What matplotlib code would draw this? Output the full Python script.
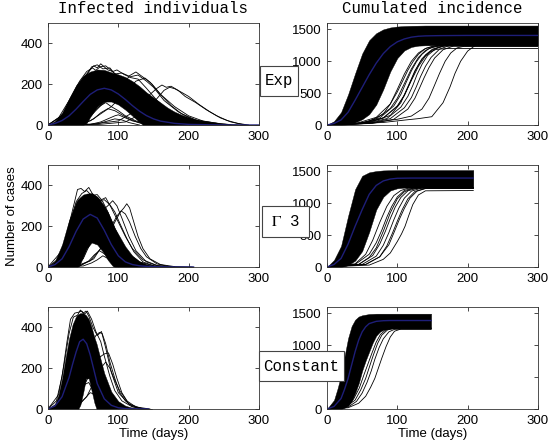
import matplotlib
matplotlib.use('Agg')
import matplotlib.pyplot as plt
from matplotlib.patches import Rectangle

plt.rcParams['font.family'] = 'Liberation Sans'
plt.rcParams['mathtext.fontset'] = 'stix'

# ---------------- Infected individuals, Exp ----------------
inf_exp_mean_t = [0, 10, 20, 30, 40, 50, 60, 70, 80, 90, 100, 110, 120, 130, 140, 150, 160, 180, 200, 230, 260, 300]
inf_exp_mean = [0, 8, 22, 45, 78, 115, 150, 172, 180, 172, 152, 125, 95, 68, 46, 30, 19, 8, 3, 1, 0, 0]
inf_exp_env_t = [0, 10, 20, 30, 40, 50, 55, 60, 70, 80, 90, 100, 110, 120, 130, 135, 140, 150, 160, 170,
                 180, 190, 200, 210, 220, 240, 260, 280, 300]
inf_exp_hi = [0, 20, 60, 130, 195, 240, 252, 262, 272, 270, 258, 248, 235, 215, 190, 175, 160, 135, 110, 85,
              65, 50, 38, 28, 22, 12, 5, 1, 0]
inf_exp_lo = [0, 0, 0, 0, 0, 0, 10, 40, 90, 115, 115, 100, 75, 45, 15, 0, 0, 0, 0, 0,
              0, 0, 0, 0, 0, 0, 0, 0, 0]
inf_exp_runs = [
    ([0, 20, 35, 50, 60, 65, 70, 75, 80, 85, 90, 100, 110, 120, 140, 160, 180, 200, 230, 260],
     [0, 45, 140, 230, 270, 290, 280, 300, 285, 270, 265, 240, 225, 200, 140, 80, 40, 18, 5, 0]),
    ([0, 25, 40, 55, 62, 70, 78, 88, 95, 105, 115, 125, 135, 145, 160, 180, 200, 220, 250],
     [0, 60, 160, 245, 285, 295, 275, 280, 250, 255, 240, 260, 235, 210, 150, 90, 45, 20, 3]),
    ([0, 15, 30, 45, 55, 63, 68, 74, 82, 92, 98, 108, 118, 128, 140, 155, 175, 200, 240],
     [0, 35, 120, 215, 262, 280, 268, 285, 290, 262, 270, 248, 232, 225, 180, 120, 60, 22, 0]),
    ([0, 60, 100, 120, 135, 145, 155, 162, 168, 175, 185, 195, 210, 225, 240, 255, 270, 285],
     [0, 3, 20, 60, 110, 150, 180, 196, 185, 190, 170, 140, 110, 75, 45, 22, 8, 0]),
    ([0, 70, 110, 130, 145, 155, 165, 173, 180, 190, 200, 215, 230, 245, 260, 280],
     [0, 2, 15, 50, 90, 130, 170, 185, 178, 160, 140, 100, 65, 35, 15, 0]),
    ([0, 60, 90, 110, 125, 138, 148, 160, 175, 190, 210, 240],
     [0, 20, 90, 160, 215, 230, 200, 150, 95, 55, 25, 0]),
    ([0, 50, 80, 100, 115, 128, 140, 150, 165, 185, 205, 230],
     [0, 25, 110, 190, 235, 245, 215, 185, 120, 65, 28, 0]),
    ([0, 40, 55, 65, 75, 82, 90, 100, 110, 125, 140, 160],
     [0, 5, 25, 60, 95, 110, 90, 70, 45, 20, 8, 0]),
    ([0, 50, 65, 75, 85, 95, 105, 115, 130, 150],
     [0, 5, 30, 60, 80, 70, 50, 30, 10, 0]),
    ([0, 60, 75, 85, 95, 100, 110, 120, 135, 150],
     [0, 3, 15, 30, 45, 50, 35, 20, 8, 0]),
    ([0, 70, 85, 95, 105, 115, 130],
     [0, 5, 20, 30, 25, 12, 0]),
]

# ---------------- Infected individuals, Gamma 3 ----------------
inf_gam_mean_t = [0, 10, 20, 30, 40, 50, 60, 70, 80, 90, 100, 110, 120, 130, 140, 160, 180, 207]
inf_gam_mean = [0, 12, 40, 100, 175, 235, 258, 240, 180, 110, 55, 25, 12, 6, 3, 1, 0, 0]
inf_gam_env_t = [0, 10, 20, 30, 40, 42, 45, 50, 55, 62, 70, 78, 85, 92, 95, 100, 110, 120, 130, 140,
                 150, 160, 180, 207]
inf_gam_hi = [0, 30, 110, 230, 320, 330, 340, 355, 360, 362, 345, 310, 270, 215, 190, 160, 100, 55, 28, 14,
              7, 3, 1, 0]
inf_gam_lo = [0, 0, 0, 0, 0, 0, 10, 50, 90, 120, 110, 75, 35, 5, 0, 0, 0, 0, 0, 0,
              0, 0, 0, 0]
inf_gam_runs = [
    ([0, 15, 25, 35, 42, 47, 52, 58, 63, 70, 78, 85, 95, 105, 115, 130, 150, 175],
     [0, 40, 140, 280, 380, 385, 370, 390, 360, 340, 320, 270, 190, 120, 65, 25, 6, 0]),
    ([0, 20, 30, 40, 48, 55, 62, 70, 76, 82, 90, 100, 110, 120, 135, 155, 180],
     [0, 80, 200, 320, 360, 375, 350, 355, 330, 340, 290, 220, 150, 90, 35, 8, 0]),
    ([0, 40, 60, 75, 85, 95, 103, 108, 112, 116, 122, 128, 135, 145, 160, 180, 205],
     [0, 5, 30, 90, 150, 220, 270, 290, 310, 290, 220, 150, 90, 40, 12, 2, 0]),
    ([0, 45, 65, 80, 90, 98, 104, 110, 116, 124, 132, 140, 155, 175],
     [0, 5, 40, 120, 200, 250, 275, 260, 220, 150, 90, 50, 15, 0]),
    ([0, 30, 50, 65, 75, 85, 92, 98, 105, 115, 125, 140, 160],
     [0, 15, 90, 200, 270, 300, 325, 300, 240, 150, 80, 25, 0]),
    ([0, 25, 45, 60, 70, 80, 88, 95, 102, 112, 122, 135, 155],
     [0, 30, 150, 270, 320, 330, 305, 270, 215, 140, 75, 25, 0]),
    ([0, 35, 50, 58, 65, 70, 78, 88, 100, 115, 135],
     [0, 5, 40, 100, 150, 130, 90, 50, 20, 5, 0]),
    ([0, 45, 58, 66, 73, 80, 90, 100, 115, 130],
     [0, 5, 30, 60, 80, 65, 40, 20, 5, 0]),
    ([0, 50, 62, 70, 78, 86, 95, 110, 125],
     [0, 5, 20, 35, 55, 40, 20, 5, 0]),
]

# ---------------- Infected individuals, Constant ----------------
inf_con_mean_t = [0, 10, 20, 30, 35, 40, 45, 50, 55, 60, 65, 70, 80, 90, 100, 110, 120, 143]
inf_con_mean = [0, 15, 60, 155, 220, 280, 330, 342, 320, 265, 195, 125, 50, 18, 6, 2, 1, 0]
inf_con_env_t = [0, 10, 15, 20, 25, 30, 35, 40, 43, 46, 50, 54, 58, 62, 66, 69, 75, 80, 90, 100,
                 110, 120, 130, 148]
inf_con_hi = [0, 25, 70, 150, 250, 345, 415, 455, 465, 470, 470, 460, 440, 400, 350, 320, 240, 175, 85, 38,
              16, 6, 2, 0]
inf_con_lo = [0, 0, 0, 0, 0, 0, 0, 0, 0, 20, 80, 150, 150, 90, 30, 0, 0, 0, 0, 0,
              0, 0, 0, 0]
inf_con_runs = [
    ([0, 12, 20, 27, 32, 38, 44, 48, 52, 56, 62, 68, 75, 80, 88, 95, 105, 120, 140],
     [0, 40, 160, 330, 440, 470, 475, 480, 465, 480, 440, 380, 330, 260, 160, 90, 40, 10, 0]),
    ([0, 15, 23, 30, 36, 42, 46, 50, 54, 58, 64, 70, 76, 82, 90, 100, 115, 135],
     [0, 70, 220, 370, 450, 460, 485, 470, 480, 455, 400, 360, 380, 300, 180, 80, 25, 0]),
    ([0, 20, 35, 45, 55, 62, 68, 73, 77, 82, 88, 95, 102, 110, 120, 135],
     [0, 20, 80, 170, 260, 320, 360, 375, 370, 320, 230, 150, 80, 40, 12, 0]),
    ([0, 30, 45, 55, 65, 72, 80, 86, 92, 98, 105, 115, 130],
     [0, 15, 70, 140, 210, 250, 270, 275, 220, 150, 80, 25, 0]),
    ([0, 40, 55, 65, 75, 82, 88, 95, 102, 112, 125, 145],
     [0, 10, 60, 130, 200, 230, 200, 140, 90, 40, 10, 0]),
    ([0, 35, 45, 52, 58, 64, 70, 80, 95],
     [0, 10, 60, 120, 130, 90, 50, 15, 0]),
    ([0, 42, 52, 60, 68, 75, 85, 100],
     [0, 10, 50, 80, 70, 40, 12, 0]),
]

# ---------------- Cumulated incidence, Exp ----------------
cum_exp_mean_t = [0, 10, 20, 30, 40, 50, 60, 70, 80, 90, 100, 110, 120, 130, 140, 160, 200, 300]
cum_exp_mean = [0, 25, 80, 200, 390, 590, 790, 970, 1120, 1230, 1305, 1350, 1378, 1392, 1398, 1402, 1405, 1405]
cum_exp_env_t = [0, 10, 20, 30, 40, 50, 60, 70, 80, 90, 100, 110, 120, 130, 140, 160, 200, 300]
cum_exp_hi = [0, 60, 200, 480, 810, 1120, 1330, 1440, 1500, 1530, 1545, 1552, 1556, 1558, 1560, 1560, 1560, 1560]
cum_exp_lo = [0, 0, 0, 10, 40, 90, 170, 320, 560, 840, 1050, 1170, 1225, 1245, 1250, 1250, 1250, 1250]
cum_exp_runs = [
    ([0, 40, 60, 80, 90, 100, 110, 120, 130, 140, 150, 170, 300],
     [0, 20, 60, 170, 330, 560, 800, 1000, 1130, 1200, 1235, 1250, 1250]),
    ([0, 40, 70, 90, 100, 108, 115, 122, 130, 140, 155, 300],
     [0, 20, 120, 330, 520, 700, 860, 990, 1110, 1200, 1245, 1245]),
    ([0, 45, 75, 95, 105, 113, 120, 127, 135, 145, 160, 300],
     [0, 20, 110, 300, 480, 680, 850, 990, 1110, 1200, 1250, 1250]),
    ([0, 50, 70, 90, 100, 110, 120, 130, 140, 150, 165, 300],
     [0, 30, 100, 260, 420, 650, 880, 1060, 1170, 1220, 1245, 1245]),
    ([0, 50, 80, 100, 110, 118, 125, 132, 140, 150, 165, 300],
     [0, 25, 110, 290, 460, 660, 840, 980, 1100, 1190, 1240, 1240]),
    ([0, 50, 80, 100, 110, 120, 130, 140, 150, 165, 300],
     [0, 20, 110, 300, 470, 700, 920, 1080, 1180, 1240, 1240]),
    ([0, 55, 85, 105, 115, 122, 128, 135, 143, 155, 170, 300],
     [0, 25, 100, 280, 450, 620, 790, 950, 1090, 1200, 1250, 1250]),
    ([0, 60, 90, 110, 120, 127, 133, 140, 148, 160, 175, 300],
     [0, 25, 100, 270, 430, 600, 760, 920, 1060, 1190, 1250, 1250]),
    ([0, 65, 95, 115, 125, 132, 138, 145, 153, 165, 180, 300],
     [0, 25, 90, 250, 420, 590, 740, 900, 1050, 1180, 1240, 1240]),
    ([0, 60, 90, 105, 115, 125, 135, 145, 155, 170, 300],
     [0, 40, 150, 350, 600, 850, 1040, 1140, 1185, 1200, 1200]),
    ([0, 60, 100, 120, 135, 145, 152, 160, 168, 176, 185, 195, 300],
     [0, 30, 90, 140, 250, 420, 600, 810, 1000, 1130, 1210, 1235, 1235]),
    ([0, 80, 111, 130, 149, 165, 175, 182, 190, 200, 211, 225, 300],
     [0, 40, 78, 100, 130, 350, 600, 810, 1000, 1160, 1250, 1260, 1260]),
]

# ---------------- Cumulated incidence, Gamma 3 ----------------
cum_gam_mean_t = [0, 10, 20, 30, 40, 50, 60, 70, 80, 90, 100, 120, 140, 208]
cum_gam_mean = [0, 40, 135, 360, 640, 900, 1140, 1280, 1350, 1380, 1392, 1395, 1395, 1395]
cum_gam_env_t = [0, 10, 20, 30, 40, 50, 60, 70, 80, 90, 100, 110, 120, 208]
cum_gam_hi = [0, 110, 330, 800, 1220, 1430, 1485, 1505, 1515, 1518, 1520, 1520, 1520, 1520]
cum_gam_lo = [0, 0, 0, 30, 100, 250, 550, 900, 1100, 1200, 1235, 1245, 1245, 1245]
cum_gam_runs = [
    ([0, 40, 55, 65, 75, 85, 95, 105, 115, 130, 208],
     [0, 50, 200, 420, 700, 950, 1120, 1200, 1235, 1245, 1245]),
    ([0, 40, 60, 70, 78, 85, 92, 100, 110, 125, 208],
     [0, 40, 200, 380, 580, 780, 950, 1100, 1200, 1245, 1245]),
    ([0, 45, 60, 70, 80, 90, 100, 110, 120, 135, 208],
     [0, 40, 150, 300, 560, 850, 1070, 1180, 1225, 1240, 1240]),
    ([0, 45, 65, 75, 83, 90, 97, 105, 115, 130, 208],
     [0, 40, 180, 360, 560, 760, 940, 1090, 1195, 1240, 1240]),
    ([0, 50, 70, 80, 88, 95, 102, 110, 120, 135, 208],
     [0, 40, 170, 340, 540, 740, 920, 1080, 1190, 1240, 1240]),
    ([0, 55, 75, 85, 93, 100, 107, 115, 125, 140, 208],
     [0, 40, 160, 330, 530, 720, 900, 1070, 1185, 1235, 1235]),
    ([0, 55, 75, 88, 96, 103, 110, 118, 128, 140, 208],
     [0, 40, 160, 350, 560, 750, 920, 1080, 1190, 1230, 1230]),
    ([0, 60, 80, 90, 100, 106, 111, 116, 122, 130, 140, 208],
     [0, 30, 120, 220, 400, 520, 640, 800, 980, 1130, 1195, 1200]),
]

# ---------------- Cumulated incidence, Constant ----------------
cum_con_mean_t = [0, 10, 20, 25, 30, 35, 40, 45, 50, 55, 60, 70, 80, 90, 100, 148]
cum_con_mean = [0, 40, 165, 310, 480, 690, 900, 1080, 1210, 1290, 1340, 1375, 1385, 1388, 1388, 1388]
cum_con_env_t = [0, 10, 15, 20, 25, 30, 35, 40, 45, 50, 55, 60, 65, 70, 75, 80, 90, 100, 148]
cum_con_hi = [0, 140, 320, 530, 830, 1110, 1300, 1400, 1450, 1470, 1480, 1490, 1492, 1495, 1495, 1495, 1495, 1495, 1495]
cum_con_lo = [0, 0, 0, 0, 20, 50, 120, 250, 400, 600, 760, 900, 1040, 1150, 1210, 1240, 1260, 1265, 1265]
cum_con_runs = [
    ([0, 30, 45, 55, 62, 68, 73, 78, 84, 90, 96, 105, 148],
     [0, 20, 90, 200, 340, 480, 640, 800, 980, 1130, 1220, 1255, 1255]),
    ([0, 30, 42, 50, 57, 63, 68, 74, 80, 88, 96, 148],
     [0, 30, 120, 250, 420, 600, 780, 960, 1100, 1210, 1250, 1250]),
    ([0, 25, 40, 48, 55, 60, 66, 72, 78, 86, 95, 148],
     [0, 20, 140, 300, 480, 650, 850, 1030, 1160, 1240, 1265, 1265]),
    ([0, 25, 38, 46, 52, 58, 64, 70, 76, 84, 94, 148],
     [0, 25, 160, 330, 520, 700, 880, 1050, 1170, 1245, 1270, 1270]),
]

titles = ['Infected individuals', 'Cumulated incidence']
row_labels = ['Exp', r'$\Gamma$ 3', 'Constant']
x_ticks = [0, 100, 200, 300]
inf_yticks = [0, 200, 400]
cum_yticks = [0, 500, 1000, 1500]

W, H = 552, 448
fig = plt.figure(figsize=(W / 100, H / 100), dpi=100)

cols_px = [(48, 259), (327, 538)]
rows_px = [(23, 125), (165, 267), (307, 409)]

panels = [
    [(inf_exp_env_t, inf_exp_hi, inf_exp_lo, inf_exp_runs, inf_exp_mean_t, inf_exp_mean),
     (cum_exp_env_t, cum_exp_hi, cum_exp_lo, cum_exp_runs, cum_exp_mean_t, cum_exp_mean)],
    [(inf_gam_env_t, inf_gam_hi, inf_gam_lo, inf_gam_runs, inf_gam_mean_t, inf_gam_mean),
     (cum_gam_env_t, cum_gam_hi, cum_gam_lo, cum_gam_runs, cum_gam_mean_t, cum_gam_mean)],
    [(inf_con_env_t, inf_con_hi, inf_con_lo, inf_con_runs, inf_con_mean_t, inf_con_mean),
     (cum_con_env_t, cum_con_hi, cum_con_lo, cum_con_runs, cum_con_mean_t, cum_con_mean)],
]

for r, (y0, y1) in enumerate(rows_px):
    for c, (x0, x1) in enumerate(cols_px):
        ax = fig.add_axes([x0 / W, 1 - y1 / H, (x1 - x0) / W, (y1 - y0) / H])
        env_t, hi, lo, runs, mt, mv = panels[r][c]
        ax.fill_between(env_t, lo, hi, color='black', lw=0.3)
        for rt, rv in runs:
            ax.plot(rt, rv, color='black', lw=0.6)
        ax.plot(mt, mv, color='#1e1e78', lw=1.0)
        ax.set_xlim(0, 300)
        ax.set_xticks(x_ticks)
        if c == 0:
            ax.set_ylim(0, 500)
            ax.set_yticks(inf_yticks)
        else:
            ax.set_ylim(0, 1600)
            ax.set_yticks(cum_yticks)
        ax.tick_params(direction='in', length=3, width=0.5, top=True, right=True,
                       labelsize=9.5, pad=4)
        for s in ax.spines.values():
            s.set_linewidth(0.6)
            s.set_color('#333333')
        if r == 0:
            ax.set_title(titles[c], fontfamily='Liberation Mono', fontsize=11.3, pad=7)
        if r == 2:
            ax.set_xlabel('Time (days)', fontsize=9.5, labelpad=1)

fig.text(12 / W, 1 - 216 / H, 'Number of cases', rotation=90, ha='center', va='center', fontsize=9.5)

boxes_px = [(260, 298, 66, 96), (262, 309, 206, 237), (259, 344, 351, 381)]
for lab, (bx0, bx1, by0, by1) in zip(row_labels, boxes_px):
    fig.add_artist(Rectangle((bx0 / W, 1 - by1 / H), (bx1 - bx0) / W, (by1 - by0) / H,
                             transform=fig.transFigure, facecolor='white',
                             edgecolor='#444444', lw=0.8, zorder=5))
    fig.text((bx0 + bx1) / 2 / W, 1 - (by0 + by1) / 2 / H, lab, ha='center', va='center',
             fontfamily='Liberation Mono', fontsize=11.3, zorder=6)

fig.savefig('out.png', dpi=100)
